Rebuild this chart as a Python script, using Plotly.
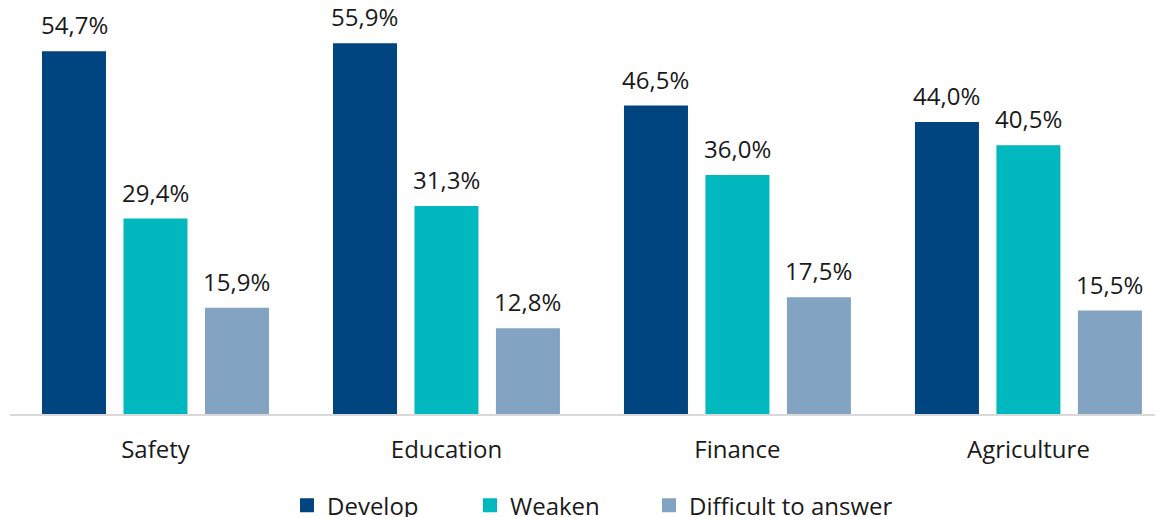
import plotly.graph_objects as go

categories = ["Safety", "Education", "Finance", "Agriculture"]
series_names = ["Develop", "Weaken", "Difficult to answer"]
develop = [54.7, 55.9, 46.5, 44.0]
weaken = [29.4, 31.3, 36.0, 40.5]
difficult = [15.9, 12.8, 17.5, 15.5]
colors = ["#00457F", "#00B8BE", "#82A3C2"]
legend_widths = [138, 134, None]

values = [develop, weaken, difficult]
FONT = "Open Sans"
TEXT = "#1a1a1a"
BARGAP = 0.16
GROUPGAP = 0.239

fig = go.Figure()
for name, vals, col, lw in zip(series_names, values, colors, legend_widths):
    fig.add_trace(go.Bar(x=categories, y=vals, name=name, marker_color=col,
                         marker_line=dict(width=2, color=col), legendwidth=lw))

slot = (1 - BARGAP) / len(values)
annotations = []
for k, vals in enumerate(values):
    for i, v in enumerate(vals):
        annotations.append(dict(
            x=i + (k - 1) * slot, y=v, xref="x", yref="y",
            text=f"{v:.1f}%".replace(".", ","), showarrow=False,
            yanchor="bottom", yshift=9,
            font=dict(family=FONT, size=24, color=TEXT)))

fig.update_layout(
    width=1163, height=517,
    margin=dict(l=2, r=0, t=0, b=111),
    paper_bgcolor="white", plot_bgcolor="white",
    barmode="group", bargap=BARGAP, bargroupgap=GROUPGAP,
    font=dict(family=FONT, size=24, color=TEXT),
    annotations=annotations,
    showlegend=True,
    legend=dict(orientation="h", xref="container", yref="container",
                x=279 / 1163, xanchor="left", y=0.081, yanchor="top",
                font=dict(size=24, family=FONT, color=TEXT),
                itemclick=False),
)
fig.update_xaxes(range=[-0.5, 3.49], showline=True, linecolor="#d9d9d9", linewidth=2,
                 ticks="", ticklabelstandoff=13,
                 tickfont=dict(family=FONT, size=24, color=TEXT))
fig.update_yaxes(range=[0, 61.4], visible=False, showgrid=False, zeroline=False)

fig.write_html("out.html")
